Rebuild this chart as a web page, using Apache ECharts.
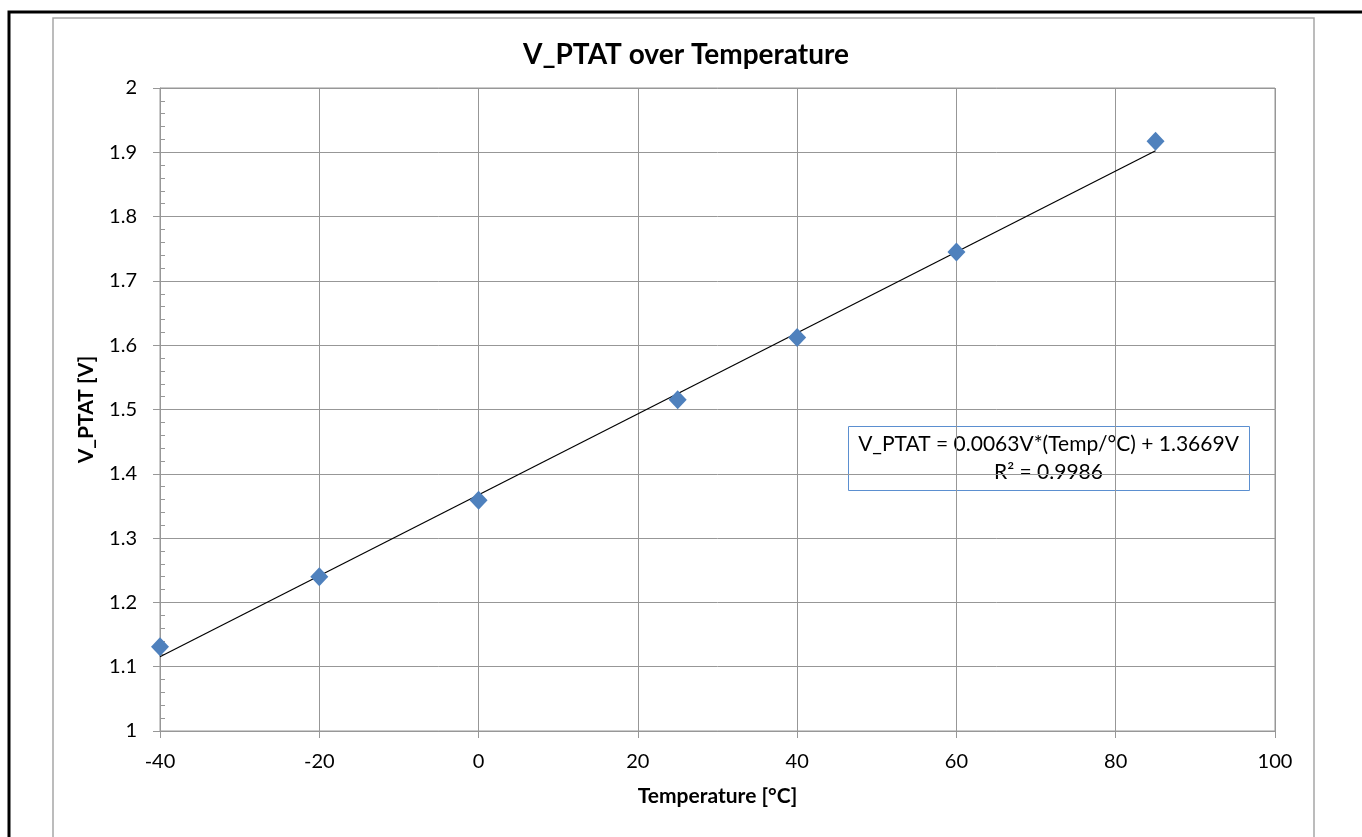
<!DOCTYPE html>
<html>
<head>
<meta charset="utf-8">
<script src="https://cdn.jsdelivr.net/npm/echarts@6/dist/echarts.min.js"></script>
<style>
  html, body { margin: 0; padding: 0; background: #fff; }
  #chart { width: 1362px; height: 837px; }
</style>
</head>
<body>
<div id="chart"></div>
<script>
// measured points
const temps = [-40, -20, 0, 25, 40, 60, 85];
const vptat = [1.131, 1.24, 1.359, 1.515, 1.612, 1.745, 1.917];

// linear trendline end points
const trendX = [-40, 85];
const trendY = [1.1156, 1.9025];

const trendText = "V_PTAT = 0.0063V*(Temp/°C) + 1.3669V\nR² = 0.9986";

const font = "Lato, 'Liberation Sans', sans-serif";
const gridColor = "#979797";

let myChart = echarts.init(document.getElementById("chart"));

let option = {
  backgroundColor: "#fff",
  animation: false,
  title: {
    text: "V_PTAT over Temperature",
    left: 681,
    textAlign: "center",
    top: 36,
    textStyle: { fontFamily: font, fontSize: 28, fontWeight: "bold", color: "#000" },
  },
  grid: {
    left: 160,
    top: 88,
    right: 87,
    bottom: 106,
    show: true,
    borderColor: gridColor,
    borderWidth: 1,
  },
  xAxis: {
    type: "value",
    min: -40,
    max: 100,
    interval: 20,
    name: "Temperature [°C]",
    nameLocation: "middle",
    nameGap: 55,
    nameTextStyle: { fontFamily: font, fontSize: 21, fontWeight: "bold", color: "#000" },
    axisLine: { show: true, onZero: false, lineStyle: { color: gridColor, width: 1 } },
    axisTick: { show: true, length: 7, lineStyle: { color: gridColor } },
    axisLabel: { fontFamily: font, fontSize: 20, color: "#000", margin: 21 },
    splitLine: { show: true, lineStyle: { color: gridColor, width: 1 } },
  },
  yAxis: [
    {
      type: "value",
      min: 1,
      max: 2,
      interval: 0.1,
      name: "V_PTAT [V]",
      nameLocation: "middle",
      nameGap: 63,
      nameTextStyle: { fontFamily: font, fontSize: 21, fontWeight: "bold", color: "#000" },
      axisLine: { show: true, onZero: false, lineStyle: { color: gridColor, width: 1 } },
      axisTick: { show: true, length: 7, lineStyle: { color: gridColor } },
      axisLabel: { fontFamily: font, fontSize: 20, color: "#000", margin: 23 },
      splitLine: { show: true, lineStyle: { color: gridColor, width: 1 } },
    },
    {
      // minor ticks drawn inside the plot
      type: "value",
      position: "left",
      min: 1,
      max: 2,
      interval: 0.02,
      axisLine: { show: false, onZero: false },
      axisTick: { show: true, inside: true, length: 5, lineStyle: { color: gridColor } },
      axisLabel: { show: false },
      splitLine: { show: false },
    },
  ],
  series: [
    {
      type: "line",
      data: trendX.map((x, i) => [x, trendY[i]]),
      symbol: "none",
      lineStyle: { color: "#000", width: 1.2 },
      z: 2,
    },
    {
      type: "scatter",
      data: temps.map((t, i) => [t, vptat[i]]),
      symbol: "diamond",
      symbolSize: [18, 19],
      itemStyle: { color: "#4f81bd", opacity: 1 },
      z: 3,
    },
  ],
  graphic: [
    {
      type: "rect",
      shape: { x: 9, y: 12, width: 1400, height: 900 },
      style: { fill: null, stroke: "#000", lineWidth: 3 },
      silent: true,
    },
    {
      type: "rect",
      shape: { x: 53, y: 18, width: 1261, height: 900 },
      style: { fill: null, stroke: "#a6a6a6", lineWidth: 1.5 },
      silent: true,
    },
    {
      type: "group",
      left: 848,
      top: 426,
      z: 10,
      children: [
        {
          type: "rect",
          shape: { x: 0, y: 0, width: 401, height: 64 },
          style: { fill: "#fff", stroke: "#5b8fd0", lineWidth: 1 },
        },
        {
          type: "text",
          x: 200,
          y: 32,
          style: {
            text: trendText,
            fontFamily: font,
            fontSize: 21,
            fill: "#000",
            align: "center",
            verticalAlign: "middle",
            lineHeight: 28,
          },
        },
      ],
    },
  ],
};

myChart.setOption(option);

window.addEventListener("resize", function () {
  myChart.resize();
});
</script>
</body>
</html>
